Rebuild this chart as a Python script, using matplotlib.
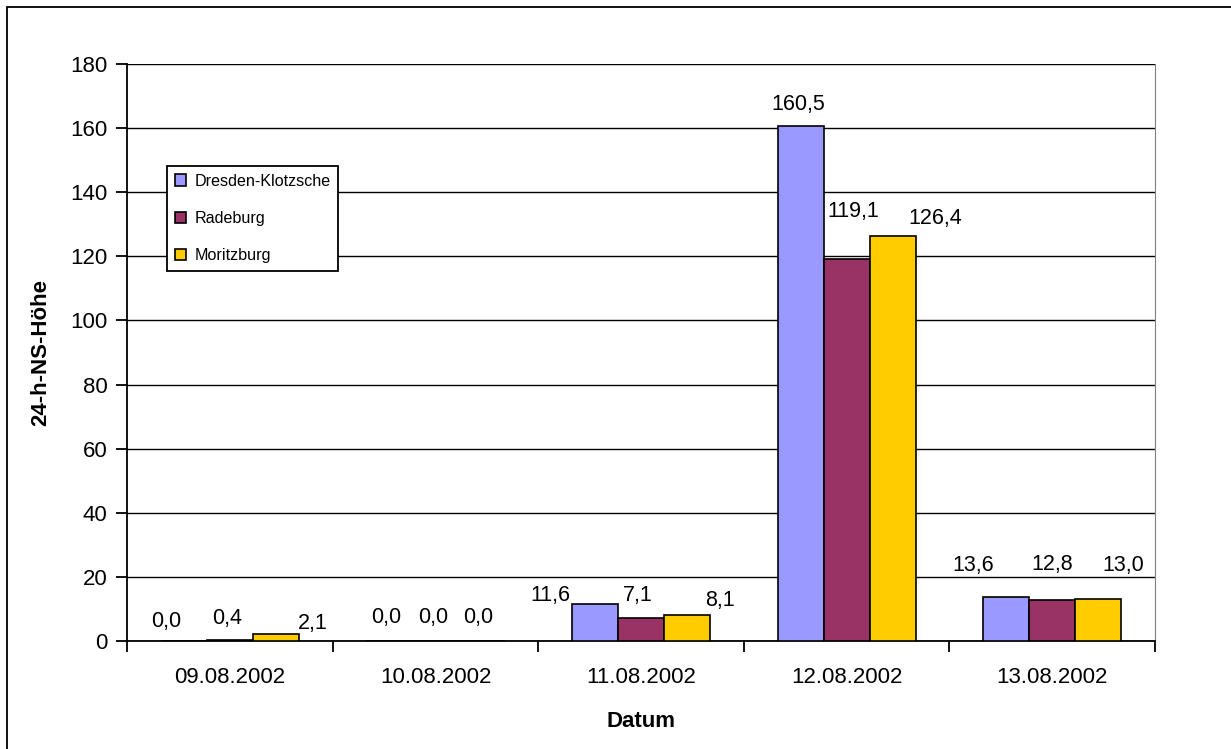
import numpy as np
import matplotlib.pyplot as plt
from matplotlib.patches import Rectangle

plt.rcParams['font.family'] = ['Liberation Sans', 'DejaVu Sans']

dates = ['09.08.2002', '10.08.2002', '11.08.2002', '12.08.2002', '13.08.2002']
stations = ['Dresden-Klotzsche', 'Radeburg', 'Moritzburg']
dresden = [0.0, 0.0, 11.6, 160.5, 13.6]
radeburg = [0.4, 0.0, 7.1, 119.1, 12.8]
moritzburg = [2.1, 0.0, 8.1, 126.4, 13.0]
colors = ['#9999FF', '#993366', '#FFCC00']

# label offsets (pixels) relative to bar top centre, as placed in the original
lab_dx = [[-18, -3, -45, -2, -33],
          [-3, -2, -3, 7, 0],
          [37, -3, 33, 43, 25]]
lab_dy = [[19, 23, 8, 22, 32],
          [21, 23, 23, 48, 35],
          [11, 23, 15, 17, 34]]

fig = plt.figure(figsize=(12.31, 7.49), dpi=100)
ax = fig.add_axes([0.1032, 0.1442, 0.8351, 0.7704])

# outer frame (only left/top visible)
fig.patches.append(Rectangle((7/1231, -0.1), 1.2, 1.1 - 7/749, transform=fig.transFigure,
                             fill=False, edgecolor='black', linewidth=1.3))

x = np.arange(len(dates))
w = 0.224
series = [dresden, radeburg, moritzburg]
for i, (vals, c, name) in enumerate(zip(series, colors, stations)):
    pos = x + (i - 1) * w
    ax.bar(pos, vals, width=w, color=c, edgecolor='black', linewidth=1.2, label=name, zorder=3)
    for j, (px, v) in enumerate(zip(pos, vals)):
        ax.annotate(f'{v:.1f}'.replace('.', ','), (px, v),
                    xytext=(lab_dx[i][j], lab_dy[i][j]), textcoords='offset pixels',
                    ha='center', va='center', fontsize=15.5)

ax.set_xlim(-0.5, 4.5)
ax.set_ylim(0, 180)
ax.set_yticks(np.arange(0, 181, 20))
ax.set_xticks(x)
ax.set_xticklabels(dates)
ax.set_xticks(np.arange(-0.5, 4.6, 1), minor=True)
ax.tick_params(axis='x', which='major', length=0, pad=19, labelsize=16)
ax.tick_params(axis='x', which='minor', length=8, width=1.3, direction='out')
ax.tick_params(axis='y', length=8, width=1.3, labelsize=16, pad=6)
ax.yaxis.grid(True, color='black', linewidth=1)
ax.set_axisbelow(True)
for s in ['left', 'bottom']:
    ax.spines[s].set_linewidth(1.3)
ax.spines['right'].set_color('#808080')
ax.spines['top'].set_visible(False)

ax.set_xlabel('Datum', fontsize=16, fontweight='bold', labelpad=16)
ax.set_ylabel('24-h-NS-Höhe', fontsize=16, fontweight='bold', labelpad=14)

leg = ax.legend(loc='upper left', bbox_to_anchor=(0.0389, 0.823), fontsize=11.6,
                frameon=True, fancybox=False, edgecolor='black', framealpha=1,
                handlelength=0.7, handleheight=0.7, handletextpad=0.55,
                borderpad=0.47, labelspacing=1.39, borderaxespad=0)
leg.get_frame().set_linewidth(1.3)

fig.savefig('out.png', dpi=100)
